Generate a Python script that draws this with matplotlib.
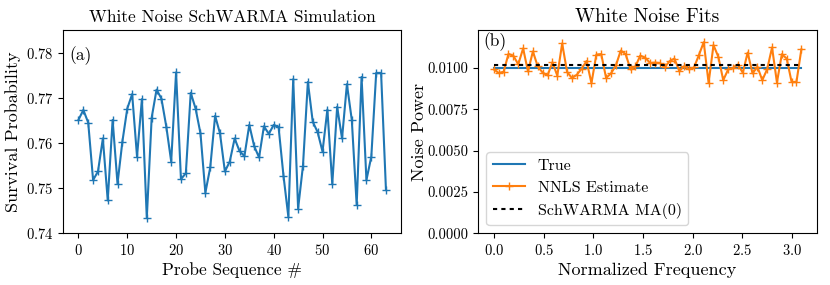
import numpy as np
import matplotlib
matplotlib.use("Agg")
import matplotlib.pyplot as plt

plt.rcParams["font.family"] = "serif"
plt.rcParams["font.serif"] = ["cmr10", "DejaVu Serif"]
plt.rcParams["mathtext.fontset"] = "cm"
plt.rcParams["axes.formatter.use_mathtext"] = True

# survival probability per probe sequence
survival = [
    0.7651, 0.7673, 0.7645, 0.7518, 0.7537, 0.7610, 0.7473, 0.7651,
    0.7510, 0.7603, 0.7676, 0.7708, 0.7570, 0.7697, 0.7434, 0.7656,
    0.7718, 0.7698, 0.7636, 0.7559, 0.7756, 0.7520, 0.7533, 0.7711,
    0.7676, 0.7621, 0.7490, 0.7546, 0.7660, 0.7621, 0.7537, 0.7559,
    0.7610, 0.7582, 0.7571, 0.7640, 0.7593, 0.7568, 0.7637, 0.7620,
    0.7640, 0.7635, 0.7528, 0.7437, 0.7741, 0.7455, 0.7550, 0.7735,
    0.7647, 0.7624, 0.7581, 0.7674, 0.7509, 0.7680, 0.7610, 0.7730,
    0.7651, 0.7463, 0.7746, 0.7518, 0.7570, 0.7755, 0.7755, 0.7496,
]

# NNLS estimate of the noise power spectrum (right panel)
nnls = [
    0.00991, 0.00970, 0.00977, 0.01085, 0.01074, 0.01022, 0.01118, 0.00979,
    0.01100, 0.01009, 0.00972, 0.00955, 0.01034, 0.00954, 0.01148, 0.00977,
    0.00939, 0.00959, 0.00996, 0.01042, 0.00908, 0.01081, 0.01084, 0.00940,
    0.00967, 0.01015, 0.01105, 0.01084, 0.00991, 0.01009, 0.01075, 0.01062,
    0.01031, 0.01033, 0.01031, 0.01003, 0.01041, 0.01057, 0.00981, 0.01011,
    0.00991, 0.01003, 0.01077, 0.01156, 0.00910, 0.01138, 0.01067, 0.00926,
    0.00991, 0.01001, 0.01021, 0.00971, 0.01093, 0.00967, 0.01007, 0.00926,
    0.00993, 0.01124, 0.00912, 0.01083, 0.01057, 0.00916, 0.00916, 0.01112,
]
true_power = 0.0100
ma0_power = 0.0102

probe = np.arange(len(survival))
freqs = np.arange(len(nnls)) * np.pi / len(nnls)

fig, (ax1, ax2) = plt.subplots(1, 2, figsize=(8.3, 2.85), dpi=100)
fig.subplots_adjust(left=0.076, right=0.984, bottom=0.181, top=0.895, wspace=0.228)

# left panel: simulated survival probabilities
ax1.plot(probe, survival, "+-", color="C0")
ax1.set_ylim(0.74, 0.785)
ax1.set_xticks(np.arange(0, 61, 10))
ax1.set_yticks([0.74, 0.75, 0.76, 0.77, 0.78])
ax1.set_xlabel("Probe Sequence #", fontsize=12.5, labelpad=3)
ax1.set_ylabel("Survival Probability", fontsize=13)
ax1.yaxis.set_label_coords(-0.125, 0.5)
ax1.set_title("White Noise SchWARMA Simulation", fontsize=12.5)
ax1.text(0.02, 0.853, "(a)", transform=ax1.transAxes, fontsize=12.5)
ax1.tick_params(labelsize=10.5)

# right panel: fitted noise spectra
ax2.plot(freqs, np.full(len(freqs), true_power), color="C0", label="True")
ax2.plot(freqs, nnls, "+-", color="C1", label="NNLS Estimate")
ax2.plot(freqs, np.full(len(freqs), ma0_power), color="k", lw=1.5,
         linestyle=(0, (2, 2)), label="SchWARMA MA(0)")
ax2.set_ylim(0, 0.0123)
ax2.set_yticks([0, 0.0025, 0.005, 0.0075, 0.01])
ax2.yaxis.set_major_formatter(matplotlib.ticker.FormatStrFormatter("%.4f"))
ax2.set_xlabel("Normalized Frequency", fontsize=13, labelpad=3)
ax2.set_ylabel("Noise Power", fontsize=13)
ax2.yaxis.set_label_coords(-0.153, 0.5)
ax2.set_title("White Noise Fits", fontsize=14)
ax2.text(0.015, 0.92, "(b)", transform=ax2.transAxes, fontsize=12.5)
ax2.tick_params(labelsize=10.5)
ax2.legend(loc="lower left", fontsize=11.5)

fig.savefig("out.png")
